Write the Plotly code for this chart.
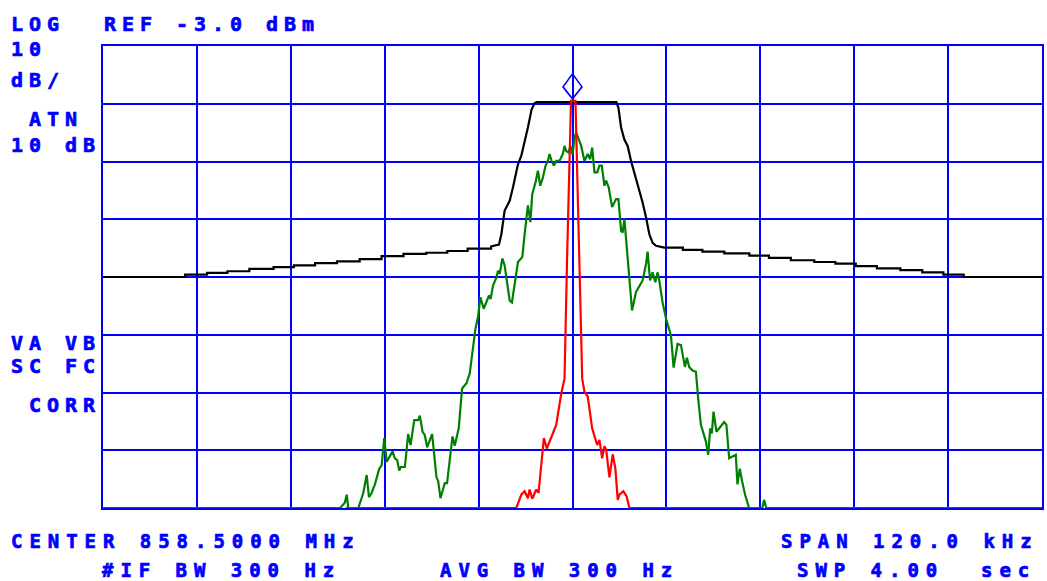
import plotly.graph_objects as go

# ---------------- data (frequency offset in kHz from 858.5 MHz, level in dBm) ----------------
black_khz = [-60.0, -49.5, -49.5, -46.7, -46.7, -44.1, -44.1, -41.3, -41.3, -38.2, -38.2, -35.6, -35.6,
             -32.9, -32.9, -30.1, -30.1, -27.2, -27.2, -24.4, -24.4, -21.6, -21.6, -18.7, -18.7, -16.0,
             -16.0, -13.4, -13.4, -10.4, -10.4, -9.40, -9.09, -8.67, -8.25, -8.03, -7.61, -7.18, -6.97,
             -6.54, -6.12, -5.70, -5.23, -4.85, -4.59, 5.61, 5.87, 6.21, 6.63, 7.05, 7.48, 8.12, 8.54,
             8.96, 9.40, 9.82, 10.24, 10.67, 11.73, 14.1, 14.1, 16.6, 16.6, 19.4, 19.4, 22.6, 22.6, 25.1,
             25.1, 27.9, 27.9, 30.9, 30.9, 33.6, 33.6, 36.2, 36.2, 38.9, 38.9, 41.9, 41.9, 44.7, 44.7,
             47.4, 47.4, 50.0, 50.0, 60.0]
black_dbm = [-43.0, -43.0, -42.6, -42.6, -42.3, -42.3, -42.0, -42.0, -41.6, -41.6, -41.3, -41.3, -41.0,
             -41.0, -40.6, -40.6, -40.3, -40.3, -39.9, -39.9, -39.4, -39.4, -39.0, -39.0, -38.8, -38.8,
             -38.5, -38.5, -38.1, -38.1, -37.7, -37.4, -35.6, -31.5, -30.4, -29.8, -27.5, -24.9, -23.5,
             -22.0, -19.7, -17.1, -14.0, -12.9, -12.7, -12.7, -13.7, -17.1, -19.2, -20.3, -22.9, -26.0,
             -28.3, -30.1, -32.7, -35.6, -37.1, -37.6, -37.9, -37.9, -38.3, -38.3, -38.6, -38.6, -38.9,
             -38.9, -39.3, -39.3, -39.7, -39.7, -40.1, -40.1, -40.4, -40.4, -40.7, -40.7, -41.1, -41.1,
             -41.5, -41.5, -41.8, -41.8, -42.2, -42.2, -42.6, -42.6, -43.0, -43.0]

green_khz = [-60.0, -29.7, -29.1, -28.85, -28.65, -27.37, -26.74, -26.30, -26.01, -25.67, -25.25, -24.70,
             -24.39, -24.06, -23.75, -23.33, -22.99, -22.70, -22.40, -22.15, -21.93, -21.42, -21.00,
             -20.69, -20.23, -19.72, -19.51, -19.16, -18.87, -18.58, -17.94, -17.38, -17.17, -16.87,
             -16.32, -16.03, -15.34, -15.05, -14.54, -14.11, -13.55, -13.13, -12.71, -12.41, -12.07,
             -11.77, -11.35, -11.00, -10.67, -10.46, -10.16, -9.73, -9.52, -9.31, -8.96, -8.67, -8.33,
             -8.03, -7.74, -7.40, -6.97, -6.63, -6.41, -6.12, -5.70, -5.39, -5.14, -4.72, -4.42, -4.12,
             -3.79, -3.44, -3.15, -2.93, -2.68, -2.38, -2.08, -1.66, -1.24, -1.02, -0.80, -0.51, -0.26,
             0.0, 0.26, 0.47, 1.11, 1.53, 1.95, 2.26, 2.51, 2.81, 3.15, 3.44, 3.74, 4.08, 4.30, 4.63,
             5.06, 5.57, 5.87, 6.21, 6.41, 6.63, 7.18, 7.61, 8.12, 8.96, 9.40, 9.60, 9.91, 10.24, 10.58,
             10.88, 11.09, 11.51, 11.95, 12.37, 12.58, 12.92, 13.43, 13.86, 14.37, 14.62, 14.92, 15.34,
             15.77, 16.10, 16.41, 17.05, 17.34, 17.60, 17.81, 18.02, 18.40, 19.38, 19.67, 20.02, 20.44,
             20.87, 21.08, 21.38, 21.71, 22.06, 22.57, 24.26, 24.48, 24.77, 60.0]
green_dbm = [-83.0, -83.0, -82.1, -80.7, -83.0, -83.0, -80.4, -77.3, -81.1, -80.4, -78.9, -76.2,
             -75.6, -70.9, -75.0, -74.1, -73.2, -74.4, -74.7, -76.5, -75.9, -75.9, -70.2,
             -72.1, -67.8, -67.8, -67.0, -69.8, -70.4, -72.5, -70.2, -77.7, -78.3, -81.3,
             -78.7, -78.7, -70.6, -72.2, -69.2, -62.3, -61.4, -59.7, -55.7, -52.0, -49.9,
             -46.5, -48.5, -47.4, -46.2, -46.8, -44.5, -43.1, -41.9, -42.5, -39.8, -41.0, -44.5,
             -47.1, -47.4, -43.9, -40.4, -39.9, -39.5, -35.6, -30.6, -33.5, -28.6, -26.6, -24.6, -27.2,
             -25.8, -23.7, -22.9, -21.7, -22.9, -23.7, -22.9, -22.9, -21.7, -20.3, -21.2, -21.4, -20.3,
             -21.8, -18.9, -18.0, -20.3, -22.9, -21.7, -22.6, -20.6, -24.9, -24.9, -23.7, -23.7, -27.2,
             -26.3, -27.5, -30.9, -29.5, -29.5, -35.0, -35.3, -32.9, -42.2, -48.8, -45.6, -43.6, -40.7,
             -38.6, -43.6, -42.2, -43.9, -42.2, -43.6, -47.4, -50.2, -52.3, -53.1, -58.7, -54.6, -54.8,
             -58.6, -57.0, -58.6, -59.2, -59.4, -64.6, -68.6, -71.5, -73.8, -69.2, -70.1, -66.3, -69.8,
             -68.1, -68.6, -74.4, -74.1, -73.8, -78.9, -76.2, -78.6, -80.7, -83.0, -83.0, -81.6, -83.0,
             -83.0]

red_khz = [-29.0, -7.18, -6.54, -6.12, -5.70, -5.48, -5.14, -4.63, -4.34, -3.99, -3.66, -3.28, -2.08,
           -1.44, -1.02, -0.68, -0.19, 0.38, 0.89, 1.24, 1.53, 1.95, 2.51, 2.93, 3.15, 3.44, 3.79, 4.08,
           4.30, 4.72, 5.14, 5.48, 5.78, 5.99, 6.50, 6.92, 7.27, 22.6]
red_dbm = [-83.0, -83.0, -80.7, -80.1, -81.3, -79.8, -81.4, -79.8, -80.4, -75.0, -70.9, -72.7, -68.6,
           -63.2, -60.6, -39.1, -12.5, -12.5, -43.3, -60.6, -62.9, -63.7, -69.2, -71.2, -72.1, -71.2,
           -74.4, -72.3, -72.9, -77.7, -73.7, -76.2, -81.6, -80.7, -80.1, -81.0, -83.0, -83.0]

marker_khz = 0.0
marker_dbm = -12.5

ref_level = -3.0
db_per_div = 10
span_khz = 120.0

# screen annotations (text, left px, centre-y px)
labels = [
    ("LOG", 10, 24), ("REF -3.0 dBm", 103, 24),
    ("10", 10, 49), ("dB/", 10, 80),
    ("ATN", 28, 119.5), ("10 dB", 10, 144.5),
    ("VA VB", 10, 342.5), ("SC FC", 10, 366), ("CORR", 28, 404.5),
]
bottom_labels = [
    ("CENTER 858.5000 MHz", 10, 540.5), ("SPAN 120.0 kHz", 781, 540.5),
    ("#IF BW 300 Hz", 101, 569.5), ("AVG BW 300 Hz", 440, 569.5), ("SWP 4.00\u00a0\u00a0sec", 797, 569.5),
]

# ---------------- layout constants ----------------
W, H = 1047, 581
ML, MR, MT, MB = 103, 3, 46, 73
PW, PH = W - ML - MR, H - MT - MB
BLUE = "#0000FF"
FONT = "DejaVu Sans Mono"
FS = 20
ADV = 0.602


def px_x(px):
    return (px - ML) / PW


def px_y(py):
    return (H - MB - py) / PH


def make_label(text, px, py, pitch, size):
    spacing = pitch - ADV * size
    style = f"letter-spacing:{spacing:.2f}px;stroke:{BLUE};stroke-width:0.7px"
    return dict(
        text=f'<span style="{style}">{text}</span>',
        xref="paper", yref="paper", x=px_x(px), y=px_y(py),
        xanchor="left", yanchor="middle", showarrow=False, borderpad=0,
        font=dict(family=FONT, size=size, color=BLUE, weight="bold"),
    )


fig = go.Figure()
fig.add_trace(go.Scatter(x=black_khz, y=black_dbm, mode="lines",
                         line=dict(color="#000000", width=2.2), showlegend=False))
fig.add_trace(go.Scatter(x=green_khz, y=green_dbm, mode="lines",
                         line=dict(color="#008000", width=2.2), showlegend=False))
fig.add_trace(go.Scatter(x=red_khz, y=red_dbm, mode="lines",
                         line=dict(color="#FF0000", width=2.2), showlegend=False))

annotations = [make_label(t, x, y, 18, FS) for t, x, y in labels]
annotations += [make_label(t, x, y, 18.4, 19) for t, x, y in bottom_labels]

axis_common = dict(showgrid=True, gridcolor=BLUE, gridwidth=2, zeroline=False,
                   showticklabels=False, ticks="", showline=True, mirror=True,
                   linecolor=BLUE, linewidth=2, layer="below traces", fixedrange=True)

fig.update_layout(
    width=W, height=H,
    margin=dict(l=ML, r=MR, t=MT, b=MB, pad=0),
    paper_bgcolor="white", plot_bgcolor="white",
    xaxis=dict(range=[-span_khz / 2, span_khz / 2], tick0=0, dtick=span_khz / 10, **axis_common),
    yaxis=dict(range=[ref_level - 8 * db_per_div, ref_level], tick0=ref_level, dtick=db_per_div,
               **axis_common),
    annotations=annotations,
    shapes=[dict(type="path", xref="x", yref="y", xsizemode="pixel", ysizemode="pixel",
                 xanchor=marker_khz, yanchor=marker_dbm,
                 path="M 0,2 L 9.5,14 L 0,27 L -9.5,14 Z",
                 line=dict(color=BLUE, width=1.6), fillcolor="rgba(0,0,0,0)")],
    showlegend=False,
)

fig.write_html("out.html", post_script="document.body.style.margin='0';",
               config={"displayModeBar": False})
